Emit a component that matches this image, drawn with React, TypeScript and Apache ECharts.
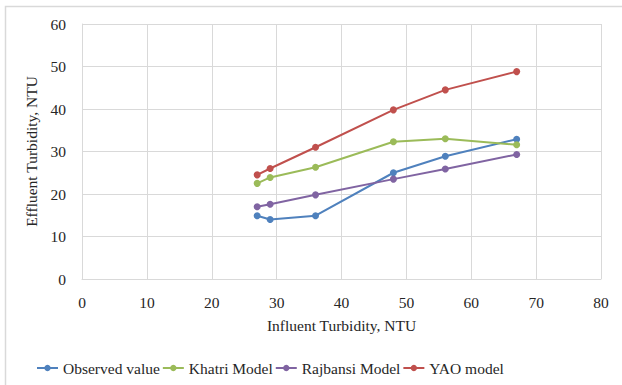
import React, { useEffect, useRef } from "react";
import * as echarts from "echarts";

const influent = [27, 29, 36, 48, 56, 67];
const observed = [14.9, 14.0, 14.9, 25.0, 28.9, 32.9];
const khatri = [22.5, 23.9, 26.3, 32.3, 33.0, 31.6];
const rajbansi = [17.0, 17.6, 19.8, 23.5, 25.9, 29.3];
const yao = [24.5, 26.0, 31.0, 39.8, 44.5, 48.8];

const seriesNames = ["Observed value", "Khatri Model", "Rajbansi Model", "YAO model"];
const seriesColors = ["#4F81BD", "#9BBB59", "#8064A2", "#C0504D"];
const seriesData = [observed, khatri, rajbansi, yao];

const FONT = "Liberation Serif";
const TXT = "#262626";
const FS = 15.5;

export default function App() {
  const ref = useRef<HTMLDivElement>(null);
  useEffect(() => {
    if (!ref.current) return;
    const chart = echarts.init(ref.current, undefined, { renderer: "svg" });
    chart.setOption({
      animation: false,
      backgroundColor: "#ffffff",
      textStyle: { fontFamily: FONT },
      graphic: [
        {
          type: "rect",
          shape: { x: 5.5, y: 6.5, width: 700, height: 500 },
          style: { fill: "none", stroke: "#D9D9D9", lineWidth: 1.5 },
          silent: true,
          z: -1,
        },
      ],
      grid: { left: 82, right: 21, top: 24, bottom: 106, containLabel: false },
      legend: {
        bottom: 4,
        left: 31,
        itemWidth: 21,
        itemHeight: 8,
        itemGap: 2,
        textStyle: { fontFamily: FONT, fontSize: FS, color: TXT },
        data: seriesNames,
      },
      xAxis: {
        type: "value",
        min: 0,
        max: 80,
        interval: 10,
        name: "Influent Turbidity, NTU",
        nameLocation: "middle",
        nameGap: 38,
        nameTextStyle: { fontFamily: FONT, fontSize: FS, color: TXT },
        axisLine: { show: true, lineStyle: { color: "#D9D9D9" } },
        axisTick: { show: false },
        axisLabel: { fontFamily: FONT, fontSize: FS, color: TXT, margin: 15 },
        splitLine: { show: true, lineStyle: { color: "#D9D9D9" } },
      },
      yAxis: {
        type: "value",
        min: 0,
        max: 60,
        interval: 10,
        name: "Effluent Turbidity, NTU",
        nameLocation: "middle",
        nameGap: 36,
        nameTextStyle: { fontFamily: FONT, fontSize: FS, color: TXT },
        axisLine: { show: true, lineStyle: { color: "#D9D9D9" } },
        axisTick: { show: false },
        axisLabel: { fontFamily: FONT, fontSize: FS, color: TXT, margin: 16 },
        splitLine: { show: true, lineStyle: { color: "#D9D9D9" } },
      },
      series: seriesNames.map((name, i) => ({
        name,
        type: "line",
        data: influent.map((x, j) => [x, seriesData[i][j]]),
        symbol: "circle",
        symbolSize: 7,
        lineStyle: { width: 2, color: seriesColors[i] },
        itemStyle: { color: seriesColors[i] },
      })),
    });
    return () => chart.dispose();
  }, []);
  return (
    <div
      ref={ref}
      style={{ position: "absolute", left: 0, top: 0, width: 622, height: 385 }}
    />
  );
}
